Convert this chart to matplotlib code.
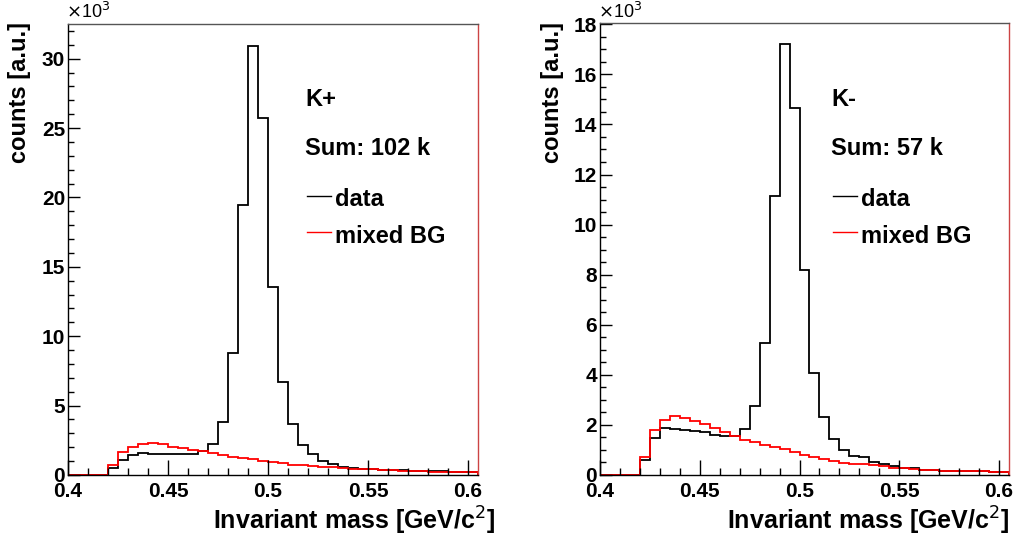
import numpy as np
import matplotlib
matplotlib.use("Agg")
import matplotlib.pyplot as plt
from matplotlib import font_manager
from matplotlib.ticker import MultipleLocator, FuncFormatter

# bin layout: 41 bins of 5 MeV starting at 0.400 GeV/c^2
bin_width = 0.005
edges = np.round(0.400 + bin_width * np.arange(42), 3)

# K+ (left panel), counts in units of 10^3
kplus_data = [0, 0, 0, 0, 0.48, 1.08, 1.44, 1.56, 1.54, 1.50, 1.50, 1.50, 1.50, 1.70,
              2.25, 3.85, 8.77, 19.47, 30.95, 25.76, 13.53, 6.73, 3.65, 2.15, 1.48,
              1.03, 0.79, 0.55, 0.50, 0.46, 0.42, 0.39, 0.36, 0.34, 0.32, 0.30, 0.28,
              0.27, 0.25, 0.24, 0.23]
kplus_bg = [0, 0, 0, 0, 0.70, 1.68, 2.04, 2.23, 2.28, 2.21, 2.04, 1.92, 1.80, 1.73,
            1.61, 1.44, 1.32, 1.23, 1.13, 1.01, 0.91, 0.84, 0.75, 0.70, 0.65, 0.60,
            0.55, 0.50, 0.46, 0.43, 0.40, 0.37, 0.34, 0.31, 0.29, 0.27, 0.25, 0.23,
            0.21, 0.20, 0.19]

# K- (right panel)
kminus_data = [0, 0, 0, 0, 0.60, 1.47, 1.88, 1.84, 1.80, 1.75, 1.71, 1.60, 1.57, 1.57,
               1.85, 2.76, 5.27, 11.13, 17.23, 14.65, 8.20, 4.07, 2.31, 1.43, 0.98,
               0.77, 0.70, 0.53, 0.42, 0.34, 0.29, 0.26, 0.21, 0.19, 0.17, 0.17, 0.16,
               0.15, 0.14, 0.13, 0.12]
kminus_bg = [0, 0, 0, 0, 0.70, 1.80, 2.20, 2.34, 2.27, 2.17, 2.04, 1.86, 1.71, 1.57,
             1.41, 1.30, 1.20, 1.10, 1.03, 0.93, 0.81, 0.70, 0.62, 0.57, 0.49, 0.44,
             0.42, 0.38, 0.34, 0.29, 0.26, 0.23, 0.20, 0.19, 0.17, 0.17, 0.16, 0.15,
             0.14, 0.13, 0.12]

x_ticks = [0.4, 0.45, 0.5, 0.55, 0.6]
x_tick_labels = ["0.4", "0.45", "0.5", "0.55", "0.6"]

panels = [
    {"name": "K+", "sum": "Sum: 102 k", "data": kplus_data, "bg": kplus_bg,
     "ymax": 32.5, "ymajor": 5, "yminor": 1},
    {"name": "K-", "sum": "Sum: 57 k", "data": kminus_data, "bg": kminus_bg,
     "ymax": 18.05, "ymajor": 2, "yminor": 0.5},
]

installed = {f.name for f in font_manager.fontManager.ttflist}
narrow = "Liberation Sans Narrow" if "Liberation Sans Narrow" in installed else "Liberation Sans"
plt.rcParams["font.family"] = ["Liberation Sans", "DejaVu Sans"]

W, H = 1016, 540
fig = plt.figure(figsize=(W / 100, H / 100), dpi=100)

# axes boxes in pixels: left, top, right, bottom
boxes = [(68, 24, 478, 475), (600, 23, 1009, 475)]

for p, (x0, y0, x1, y1) in zip(panels, boxes):
    ax = fig.add_axes([x0 / W, 1 - y1 / H, (x1 - x0) / W, (y1 - y0) / H])
    ax.stairs(p["data"], edges, color="black", lw=1.3, baseline=0)
    ax.stairs(p["bg"], edges, color="red", lw=1.3, baseline=0)
    ax.set_xlim(0.4, 0.605)
    ax.set_ylim(0, p["ymax"])

    ax.xaxis.set_minor_locator(MultipleLocator(0.01))
    ax.set_xticks(x_ticks)
    ax.set_xticklabels(x_tick_labels, family=narrow, fontsize=15, fontweight="bold")
    ax.yaxis.set_major_locator(MultipleLocator(p["ymajor"]))
    ax.yaxis.set_minor_locator(MultipleLocator(p["yminor"]))
    ax.yaxis.set_major_formatter(FuncFormatter(lambda v, pos: f"{v:g}"))
    ax.tick_params(axis="x", which="major", direction="in", length=10.5, width=1, pad=5)
    ax.tick_params(axis="x", which="minor", direction="in", length=5, width=1)
    ax.tick_params(axis="y", which="major", direction="in", length=8.5, width=1, pad=2,
                   labelsize=15)
    ax.tick_params(axis="y", which="minor", direction="in", length=4.3, width=1)
    ax.tick_params(top=False, right=False, which="both")
    for lab in ax.get_yticklabels():
        lab.set_fontweight("bold")

    for s in ["left", "bottom"]:
        ax.spines[s].set_color("black")
        ax.spines[s].set_linewidth(1)
    ax.spines["top"].set_color("#555555")
    ax.spines["top"].set_linewidth(1)
    ax.spines["right"].set_color("#cc4444")
    ax.spines["right"].set_linewidth(1)

    # axis titles, ROOT-style right/top aligned
    fig.text((x1 + (17 if x0 < 100 else 0)) / W, 1 - 521 / H, "Invariant mass [GeV/c$^2$]",
             ha="right", va="center", family=narrow, fontsize=18, fontweight="bold")
    fig.text((x0 - 48) / W, 1 - 22 / H, "counts [a.u.]", rotation=90,
             ha="center", va="top", fontsize=17, fontweight="bold")
    fig.text((x0 - 2) / W, 1 - 12 / H, r"$\times$10$^3$", ha="left", va="center",
             fontsize=13)

    # labels and legend
    tx = x0 + (237 if x0 < 100 else 231)
    fig.text(tx / W, 1 - 99 / H, p["name"], ha="left", va="center",
             fontsize=17, fontweight="bold")
    fig.text(tx / W, 1 - 148 / H, p["sum"], ha="left", va="center",
             fontsize=17, fontweight="bold")
    for dy, col, lab in [(196, "black", "data"), (232, "red", "mixed BG")]:
        fig.add_artist(plt.Line2D([(tx + 2) / W, (tx + 26) / W], [1 - dy / H, 1 - dy / H],
                                  color=col, lw=1))
        fig.text((tx + 30) / W, 1 - (dy + 4) / H, lab, ha="left", va="center",
                 fontsize=17, fontweight="bold")

fig.savefig("out.png", dpi=100)
